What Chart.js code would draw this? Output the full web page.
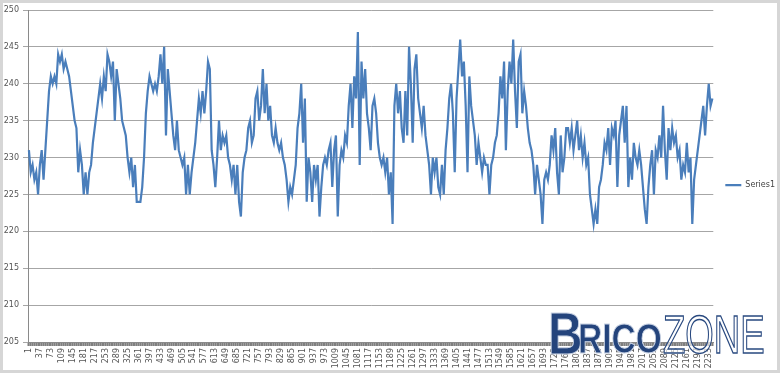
<!DOCTYPE html>
<html>
<head>
<meta charset="utf-8">
<script src="https://cdn.jsdelivr.net/npm/chart.js@4.4.0/dist/chart.umd.min.js"></script>
<style>
  html, body { margin: 0; padding: 0; background: #fff; }
  #wrap { position: relative; width: 780px; height: 373px; overflow: hidden; }
  .wm { position: absolute; line-height: 1; white-space: nowrap; font-family: 'Liberation Sans', Arial, sans-serif; transform-origin: left top; pointer-events: none; }
  #wmB { left: 548px; top: 304px; font-size: 60px; font-weight: bold; color: #24447c; -webkit-text-stroke: 1px #c9d3e4; transform: scaleX(0.8); }
  #wmR { left: 578px; top: 317px; font-size: 43px; font-weight: bold; color: #24447c; -webkit-text-stroke: 1px #c9d3e4; transform: scaleX(0.78); }
  #wmZ { left: 663px; top: 308px; font-size: 53px; color: rgba(255,255,255,0.6); -webkit-text-stroke: 1.5px #2a4a80; transform: scaleX(0.69); }
</style>
</head>
<body>
<div id="wrap">
  <canvas id="chart" width="780" height="373"></canvas>
  <span class="wm" id="wmB">B</span>
  <span class="wm" id="wmR">RICO</span>
  <span class="wm" id="wmZ">ZONE</span>
</div>
<script>
  // one reading kept every 6th row of the sheet (rows 1, 7, 13, ...)
  const step = 6;

  const volts = [
    231,228,229,227,228,225,229,231,227,231, 235,239,241,240,241,240,244,243,244,242,
    243,242,241,239,237,235,234,228,231,229, 225,228,225,228,229,232,234,236,238,240,
    238,241,239,244,243,241,243,235,242,240, 238,235,234,233,230,228,230,226,229,224,
    224,224,226,230,
    236,239,241,240,239,240,239,241,244,240, 245,233,242,239,236,233,231,235,231,230,
    229,230,225,229,225,228,230,232,235,238, 236,239,236,239,243,242,231,229,226,230,
    235,231,233,232,233,230,229,227,229,225, 229,224,222,228,230,231,234,235,232,233,
    238,239,
    235,237,242,236,240,235,237,233,232,234, 232,231,232,230,229,227,224,226,225,227,
    229,234,236,240,232,238,224,230,228,224, 229,227,229,222,226,229,230,229,231,232,
    226,231,233,222,229,231,230,233,232,237, 240,234,241,238,247,229,243,238,242,236,
    234,231,237,
    238,236,232,230,229,230,228,230,225,228, 221,237,240,236,239,234,232,239,233,245,
    240,232,242,244,238,236,234,237,233,231, 229,225,230,228,230,226,225,229,225,231,
    234,238,240,236,228,238,242,246,241,243, 237,228,241,237,235,233,229,232,230,228,
    230,229,229,
    225,229,230,232,233,236,241,238,243,231, 239,243,240,246,239,234,243,244,236,239,
    237,234,232,231,229,225,229,227,225,221, 227,228,227,229,233,231,234,228,225,233,
    228,230,234,234,232,234,231,233,235,231, 233,230,232,229,230,225,223,221,223,221,
    226,227,
    229,232,231,234,229,234,233,235,226,233, 235,237,232,237,226,230,227,232,230,229,
    231,229,226,223,221,226,229,231,225,231, 230,233,230,237,231,227,234,231,234,232,
    233,230,231,227,229,228,232,228,230,221, 227,229,231,233,235,237,233,237,240,237,
    238
  ];

  const rows = volts.map((v, i) => 1 + i * step);

  const tickLabels = [
    1,37,73,109,145,181,217,253,289,325,361,397,433,469,505,541,577,613,649,685,
    721,757,793,829,865,901,937,973,1009,1045,1081,1117,1153,1189,1225,1261,1297,
    1333,1369,1405,1441,1477,1513,1549,1585,1621,1657,1693,1729,1765,1801,1837,
    1873,1909,1945,1981,2017,2053,2089,2125,2161,2197,2233
  ];
  const shown = new Set(tickLabels);

  const yMin = 205, yMax = 250, yStep = 5;

  const font = { family: "'DejaVu Sans', sans-serif", size: 8 };

  const frame = {
    id: 'frame',
    beforeDraw(chart) {
      const c = chart.ctx;
      c.save();
      c.fillStyle = '#fff';
      c.fillRect(0, 0, chart.width, chart.height);
      c.restore();
    },
    afterDraw(chart) {
      const c = chart.ctx;
      c.save();
      c.strokeStyle = '#d6d6d6';
      c.lineWidth = 3;
      c.strokeRect(1.5, 1.5, chart.width - 3, chart.height - 3);
      c.restore();
    }
  };

  new Chart(document.getElementById('chart'), {
    type: 'line',
    data: {
      labels: rows,
      datasets: [{
        label: 'Series1',
        data: volts,
        borderColor: '#4a7ebb',
        backgroundColor: '#4a7ebb',
        borderWidth: 2.2,
        pointRadius: 0,
        tension: 0,
        fill: false
      }]
    },
    options: {
      responsive: false,
      animation: false,
      layout: { padding: { top: 10, left: 0, right: -5, bottom: 0 } },
      plugins: {
        legend: {
          position: 'right',
          fullSize: false,
          // blank title only pushes the single entry down to mid-plot
          title: { display: true, text: ' ', font: { size: 1 }, padding: { top: 8, bottom: 9 } },
          labels: {
            usePointStyle: true,
            pointStyle: 'line',
            pointStyleWidth: 16,
            color: '#444',
            font: font,
            padding: 12
          }
        },
        tooltip: { enabled: false }
      },
      scales: {
        x: {
          type: 'category',
          offset: true,
          grid: {
            drawOnChartArea: false,
            tickLength: 4,
            tickWidth: 2,
            tickColor: '#7f7f7f',
            color: '#7f7f7f'
          },
          border: { color: '#8a8a8a' },
          ticks: {
            autoSkip: false,
            minRotation: 90,
            maxRotation: 90,
            padding: 2,
            color: '#555',
            font: font,
            callback: function(val) {
              const lab = this.getLabelForValue(val);
              return shown.has(lab) ? String(lab) : '';
            }
          },
          afterFit: s => { s.height = 31; }
        },
        y: {
          min: yMin,
          max: yMax,
          grid: { color: '#a6a6a6', tickLength: 5 },
          border: { color: '#8a8a8a' },
          ticks: { stepSize: yStep, color: '#555', font: font, padding: 4 },
          afterFit: s => { s.width = 28; }
        }
      }
    },
    plugins: [frame]
  });
</script>
</body>
</html>
